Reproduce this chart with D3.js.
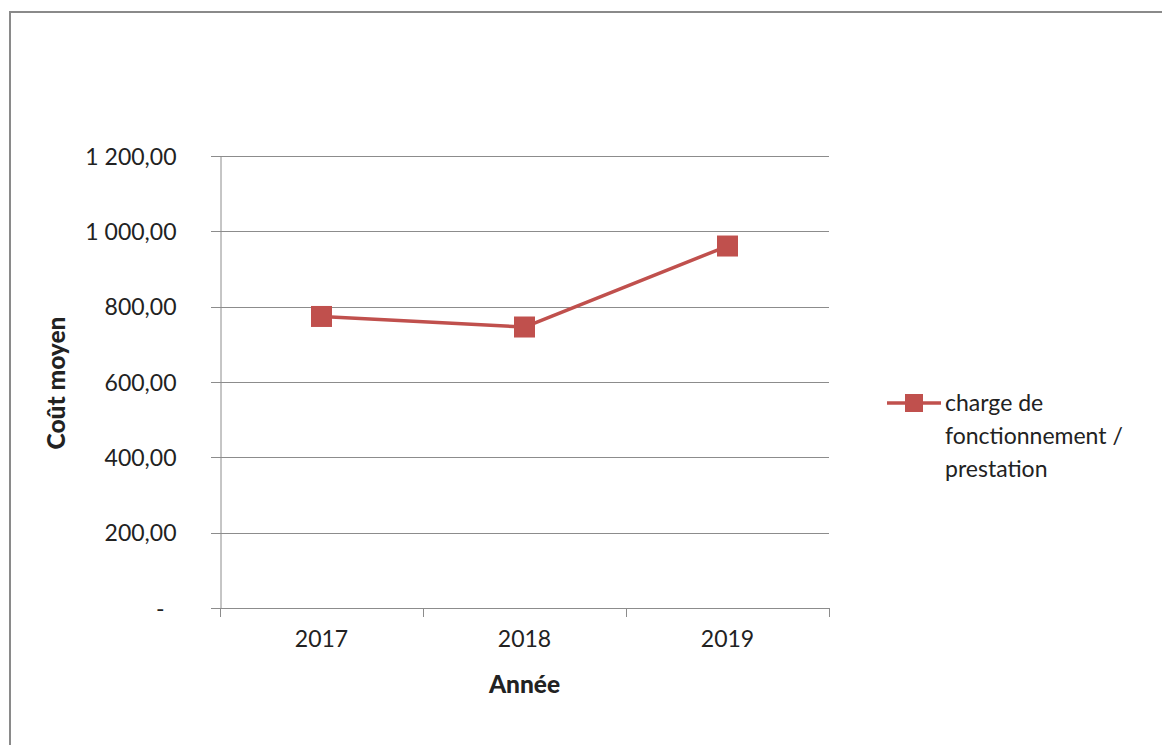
<!DOCTYPE html>
<html><head><meta charset="utf-8">
<script src="https://cdn.jsdelivr.net/npm/d3@7"></script>
<style>body{margin:0;background:#fff;}svg{display:block;font-family:Lato,"Open Sans",sans-serif;}</style>
</head><body>
<svg id="c" width="1162" height="745"></svg>
<script>
const categories = ["2017", "2018", "2019"];
const seriesName = ["charge de", "fonctionnement /", "prestation"];
const values = [774, 746, 961];
const yTicks = [0, 200, 400, 600, 800, 1000, 1200];
const yTitle = "Coût moyen";
const xTitle = "Année";

const svg = d3.select("#c");
const color = "#C0504D", gridC = "#8c8c8c", txt = "#222";
svg.append("rect").attr("x",10).attr("y",12).attr("width",1170).attr("height",760)
  .attr("fill","none").attr("stroke","#8a8a8a").attr("stroke-width",2);

const L = 220, R = 829, T = 156, B = 608;
const x = d3.scaleBand().domain(categories).range([L, R]);
const y = d3.scaleLinear().domain([0, 1200]).range([B, T]);
const fmt = v => v === 0 ? "-" : d3.format(",.2f")(v).replace(/,/g, " ").replace(".", ",");

// gridlines
svg.append("g").selectAll("line").data(yTicks).join("line")
  .attr("x1", L - 9).attr("x2", R).attr("y1", d => Math.round(y(d)) + 0.5).attr("y2", d => Math.round(y(d)) + 0.5)
  .attr("stroke", gridC).attr("stroke-width", 1);

// y axis
const yAx = svg.append("g").attr("transform", `translate(${L + 0.5},0)`)
  .call(d3.axisLeft(y).tickValues(yTicks).tickFormat(fmt).tickSize(0).tickPadding(44));
yAx.select(".domain").attr("stroke", gridC);
yAx.selectAll("text").attr("font-size", 23).attr("fill", txt).attr("dy", "0.36em")
  .attr("font-family", "Lato");
yAx.selectAll(".tick").filter(d => d === 0).select("text").attr("dx", -12);

// x axis
const xAx = svg.append("g").attr("transform", `translate(0,${Math.round(B) + 0.5})`)
  .call(d3.axisBottom(x).tickSize(0).tickPadding(22));
xAx.select(".domain").remove();
xAx.selectAll("text").attr("font-size", 23).attr("fill", txt).attr("font-family", "Lato");
// category boundary ticks
const bounds = categories.map(c => x(c)).concat([x(categories[categories.length - 1]) + x.bandwidth()]);
svg.append("g").selectAll("line").data(bounds).join("line")
  .attr("x1", d => Math.round(d) + 0.5).attr("x2", d => Math.round(d) + 0.5)
  .attr("y1", B).attr("y2", B + 9).attr("stroke", gridC);

// line
const line = d3.line().x((d, i) => x(categories[i]) + x.bandwidth() / 2).y(d => y(d));
svg.append("path").datum(values).attr("d", line).attr("fill", "none")
  .attr("stroke", color).attr("stroke-width", 3.5).attr("stroke-linejoin", "round");
const ms = 21;
svg.append("g").selectAll("rect").data(values).join("rect")
  .attr("x", (d, i) => x(categories[i]) + x.bandwidth() / 2 - ms / 2)
  .attr("y", d => y(d) - ms / 2).attr("width", ms).attr("height", ms).attr("fill", color);

// titles
svg.append("text").attr("transform", "translate(65,383) rotate(-90)").attr("text-anchor", "middle")
  .attr("font-size", 24.5).attr("font-weight", "900").attr("fill", txt).text(yTitle);
svg.append("text").attr("x", (L + R) / 2).attr("y", 693).attr("text-anchor", "middle")
  .attr("font-size", 24.5).attr("font-weight", "900").attr("fill", txt).text(xTitle);

// legend
const lg = svg.append("g");
lg.append("line").attr("x1", 887).attr("x2", 941).attr("y1", 403).attr("y2", 403)
  .attr("stroke", color).attr("stroke-width", 3.5);
lg.append("rect").attr("x", 905).attr("y", 394).attr("width", 18).attr("height", 18).attr("fill", color);
lg.selectAll("text").data(seriesName).join("text").attr("x", 945).attr("y", (d, i) => 411 + i * 33)
  .attr("font-size", 23).attr("fill", txt).text(d => d);
</script>
</body></html>
